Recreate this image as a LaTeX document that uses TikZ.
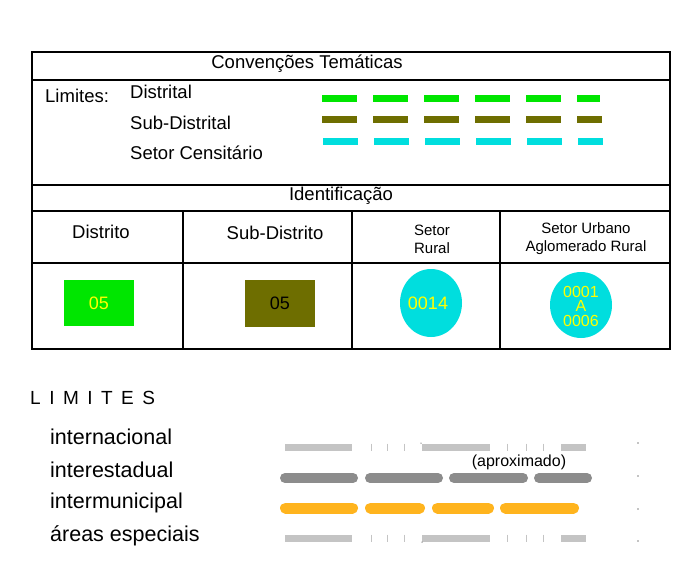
\documentclass[tikz,border=0pt]{standalone}
\usepackage{fontspec}
\setmainfont{Liberation Sans}
\definecolor{cgreen}{RGB}{0,230,0}
\definecolor{colive}{RGB}{110,110,0}
\definecolor{ccyan}{RGB}{0,222,222}
\definecolor{cyel}{RGB}{255,255,0}
\definecolor{lgrey}{RGB}{196,196,196}
\definecolor{dgrey}{RGB}{140,140,140}
\definecolor{corange}{RGB}{255,180,30}
\newcommand{\fs}[1]{\fontsize{#1}{#1}\selectfont}
\begin{document}
\begin{tikzpicture}[x=1pt,y=-1pt,
  tline/.style={line width=1.6pt},
  lbl/.style={inner sep=0pt,anchor=west},
  ctr/.style={inner sep=0pt,anchor=center},
  legdash/.style={line width=7pt,dash pattern=on 35pt off 16pt},
  thinbar/.style={line width=7pt,lgrey},
  tickbar/.style={line width=1pt,lgrey},
  thickbar/.style={line width=10pt,line cap=round},
  dotmark/.style={circle,fill=black,inner sep=0pt,minimum size=1.4pt}]
\useasboundingbox (0,0) rectangle (681,576);
\fill[white] (0,0) rectangle (681,576);
% table
\draw[tline] (32,52) rectangle (670,349);
\draw[tline] (32,80) -- (670,80);
\draw[tline] (32,185) -- (670,185);
\draw[tline] (32,211) -- (670,211);
\draw[tline] (32,263) -- (670,263);
\foreach \x in {183,352,500} \draw[tline] (\x,211) -- (\x,349);
\node[ctr] (title) at (307,64) {\fs{18.5}Convenções Temáticas};
\node[lbl] (lim) at (45,96) {\fs{18.5}Limites:};
\node[lbl] (dis) at (130,92) {\fs{18.5}Distrital};
\node[lbl] (sub) at (130,123) {\fs{18.5}Sub-Distrital};
\node[lbl] (set) at (130,153) {\fs{18.5}Setor Censitário};
\draw[legdash,cgreen] (322,98) -- (600,98);
\draw[legdash,colive] (322,119) -- (602,119);
\draw[legdash,ccyan] (323,141) -- (603,141);
\node[ctr] (ident) at (341,196) {\fs{18.5}Identificação};
\node[ctr] (h1) at (101,232) {\fs{18.5}Distrito};
\node[ctr] (h2) at (275,233) {\fs{18.5}Sub-Distrito};
\node[ctr,align=center,font={\fontsize{15}{18}\selectfont}] (h3) at (432,239) {Setor\\ Rural};
\node[ctr,align=center,font={\fontsize{15}{18}\selectfont}] (h4) at (586,239) {Setor Urbano\\Aglomerado Rural};
\node[draw=none,fill=cgreen,minimum width=70pt,minimum height=46pt,inner sep=0pt,text=cyel] (b1) at (99,303) {\fs{18}05};
\node[draw=none,fill=colive,minimum width=70pt,minimum height=47pt,inner sep=0pt] (b2) at (280,303) {\fs{18}05};
\fill[ccyan] (431,303) ellipse [x radius=31, y radius=34];
\node[ctr,text=cyel] (c1) at (428,303) {\fs{18}0014};
\fill[ccyan] (581,305) ellipse [x radius=31, y radius=33];
\node[ctr,align=center,text=cyel,font={\fontsize{16}{14.5}\selectfont}] (c2) at (581,306) {0001\\A\\0006};
% lower legend
\node[lbl] (LIM) at (30,398) {\fs{19}L\hspace{8.5pt}I\hspace{8.5pt}M\hspace{8.5pt}I\hspace{8.5pt}T\hspace{8.5pt}E\hspace{8.5pt}S};
\node[lbl] (l1) at (50,437) {\fs{21.5}internacional};
\node[lbl] (l2) at (50,470) {\fs{21.5}interestadual};
\node[lbl] (l3) at (50,503) {\fs{21.5}intermunicipal};
\node[lbl] (l4) at (50,536) {\fs{21.5}áreas especiais};
\node[ctr] (apx) at (519,462) {\fs{16}(aproximado)};
\foreach \y in {447,538} {
  \draw[thinbar] (285,\y) -- (352,\y);
  \draw[thinbar] (422,\y) -- (490,\y);
  \draw[thinbar] (561,\y) -- (586,\y);
  \foreach \x in {371,387,404,507,526,543} \draw[tickbar] (\x,\y-3.5) -- (\x,\y+3.5);
}
\node[dotmark,minimum size=1pt] (t1) at (421,443) {};
\node[dotmark,minimum size=1pt] (t2) at (422,542) {};
\draw[thickbar,dgrey] (285,478) -- (353,478);
\draw[thickbar,dgrey] (370,478) -- (438,478);
\draw[thickbar,dgrey] (454,478) -- (523,478);
\draw[thickbar,dgrey] (539,478) -- (587,478);
\draw[thickbar,corange,line width=11pt] (285.5,508) -- (352.5,508);
\draw[thickbar,corange,line width=11pt] (370.5,508) -- (419.5,508);
\draw[thickbar,corange,line width=11pt] (437.5,508) -- (488.5,508);
\draw[thickbar,corange,line width=11pt] (505.5,508) -- (573.5,508);
\node[dotmark] (d1) at (638,443) {};
\node[dotmark] (d2) at (638,476) {};
\node[dotmark] (d3) at (638,509) {};
\node[dotmark] (d4) at (638,541) {};
\end{tikzpicture}
\end{document}
